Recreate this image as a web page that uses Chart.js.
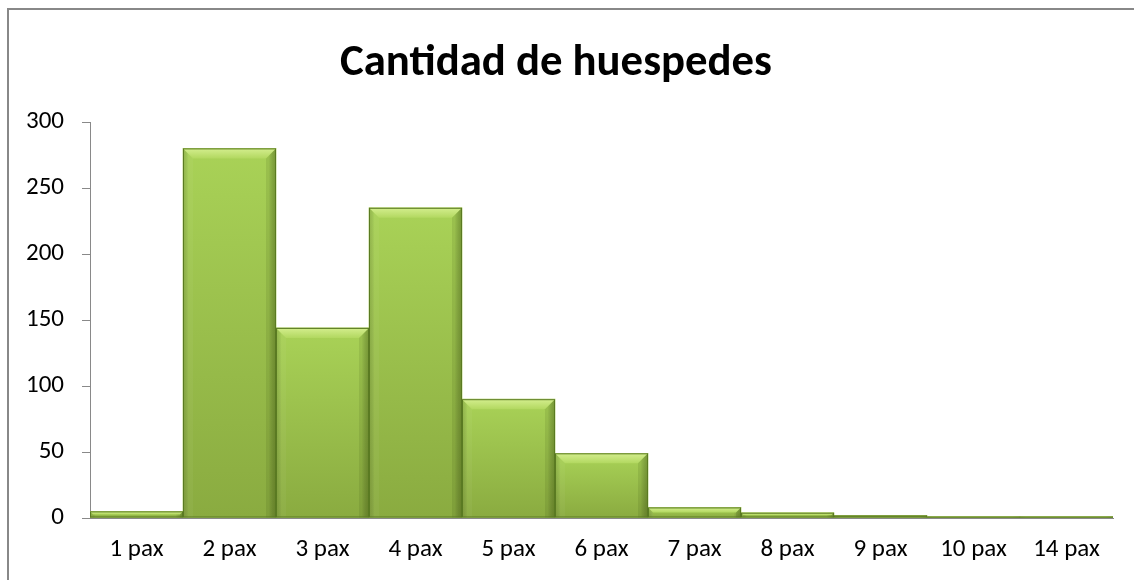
<!DOCTYPE html>
<html><head><meta charset="utf-8">
<script src="https://cdn.jsdelivr.net/npm/chart.js@4/dist/chart.umd.min.js"></script>
<style>
html,body{margin:0;padding:0;background:#fff;overflow:hidden;}
canvas{display:block;}
</style></head><body>
<canvas id="c" width="1134" height="580"></canvas>
<script>
const categories = ['1 pax','2 pax','3 pax','4 pax','5 pax','6 pax','7 pax','8 pax','9 pax','10 pax','14 pax'];
const guests = [5, 280, 144, 235, 90, 49, 8, 4, 2, 1, 1];
const yMin = 0, yMax = 300, yStep = 50;
const chartTitle = 'Cantidad de huespedes';

const FONT = 'Carlito, Calibri, Lato, "Open Sans", sans-serif';

const framePlugin = {
  id: 'frame',
  beforeDraw(chart) {
    const ctx = chart.ctx;
    ctx.save();
    ctx.fillStyle = '#fff';
    ctx.fillRect(0, 0, chart.width, chart.height);
    ctx.strokeStyle = '#888888';
    ctx.lineWidth = 2;
    ctx.beginPath();
    ctx.moveTo(8, chart.height + 2);
    ctx.lineTo(8, 9);
    ctx.lineTo(chart.width + 2, 9);
    ctx.stroke();
    ctx.restore();
  }
};

const titlePlugin = {
  id: 'excelTitle',
  afterDraw(chart) {
    const ctx = chart.ctx;
    ctx.save();
    let size = 44;
    ctx.font = 'bold ' + size + 'px ' + FONT;
    const w = ctx.measureText(chartTitle).width;
    size = size * 432 / w;
    ctx.font = 'bold ' + size.toFixed(2) + 'px ' + FONT;
    ctx.fillStyle = '#000';
    ctx.textAlign = 'center';
    ctx.textBaseline = 'alphabetic';
    ctx.fillText(chartTitle, 556, 75);
    ctx.restore();
  }
};

const bevelPlugin = {
  id: 'bevel',
  afterDatasetsDraw(chart) {
    const ctx = chart.ctx;
    const meta = chart.getDatasetMeta(0);
    meta.data.forEach(bar => {
      const p = bar.getProps(['x','y','base','width'], true);
      const l = p.x - p.width/2, r = p.x + p.width/2;
      const t = Math.min(p.y, p.base), b = Math.max(p.y, p.base);
      const h = b - t, w = r - l;
      if (h <= 0) return;
      const bv = Math.min(10, h/2);
      ctx.save();
      let g = ctx.createLinearGradient(0, t, 0, b);
      g.addColorStop(0, '#a9d257');
      g.addColorStop(1, '#8aab40');
      ctx.fillStyle = g;
      ctx.fillRect(l, t, w, h);
      let gh = ctx.createLinearGradient(l, 0, r, 0);
      gh.addColorStop(0, 'rgba(50,80,0,0.22)');
      gh.addColorStop(0.06, 'rgba(0,0,0,0)');
      gh.addColorStop(0.92, 'rgba(0,0,0,0)');
      gh.addColorStop(1, 'rgba(40,60,0,0.30)');
      ctx.fillStyle = gh;
      ctx.fillRect(l, t, w, h);
      ctx.beginPath();
      ctx.moveTo(l, t); ctx.lineTo(r, t); ctx.lineTo(r - bv, t + bv); ctx.lineTo(l + bv, t + bv); ctx.closePath();
      let gt = ctx.createLinearGradient(0, t, 0, t + bv);
      gt.addColorStop(0, '#d4ee8e');
      gt.addColorStop(1, '#b2d860');
      ctx.fillStyle = gt;
      ctx.fill();
      ctx.beginPath();
      ctx.moveTo(r, t); ctx.lineTo(r, b); ctx.lineTo(r - bv, b); ctx.lineTo(r - bv, t + bv); ctx.closePath();
      ctx.fillStyle = 'rgba(30,50,0,0.10)';
      ctx.fill();
      ctx.beginPath();
      ctx.moveTo(l, t); ctx.lineTo(l + bv, t + bv); ctx.lineTo(l + bv, b); ctx.lineTo(l, b); ctx.closePath();
      ctx.fillStyle = 'rgba(255,255,255,0.04)';
      ctx.fill();
      ctx.strokeStyle = '#5a7a22';
      ctx.lineWidth = 1;
      ctx.strokeRect(l + 0.5, t + 0.5, w - 1, h - 1);
      ctx.restore();
    });
  }
};

new Chart(document.getElementById('c'), {
  type: 'bar',
  data: {
    labels: categories,
    datasets: [{
      data: guests,
      backgroundColor: '#9dc24c',
      borderWidth: 0,
      categoryPercentage: 1.0,
      barPercentage: 1.0
    }]
  },
  options: {
    responsive: false,
    animation: false,
    devicePixelRatio: 1,
    layout: { padding: { top: 122, right: 21, bottom: 0, left: 0 } },
    plugins: { legend: { display: false }, title: { display: false }, tooltip: { enabled: false } },
    scales: {
      x: {
        grid: { display: false, drawTicks: false },
        border: { display: true, color: '#898989', width: 1 },
        ticks: { color: '#000', font: { family: FONT, size: 25 }, padding: 17, maxRotation: 0, autoSkip: false },
        afterFit(scale) { scale.height = 62; }
      },
      y: {
        min: yMin, max: yMax,
        grid: { drawOnChartArea: false, drawTicks: true, tickLength: 8, color: '#898989' },
        border: { display: true, color: '#898989', width: 1 },
        ticks: { stepSize: yStep, color: '#000', font: { family: FONT, size: 25 }, padding: 18 },
        afterFit(scale) { scale.width = 90; }
      }
    }
  },
  plugins: [framePlugin, bevelPlugin, titlePlugin]
});
</script>
</body></html>
